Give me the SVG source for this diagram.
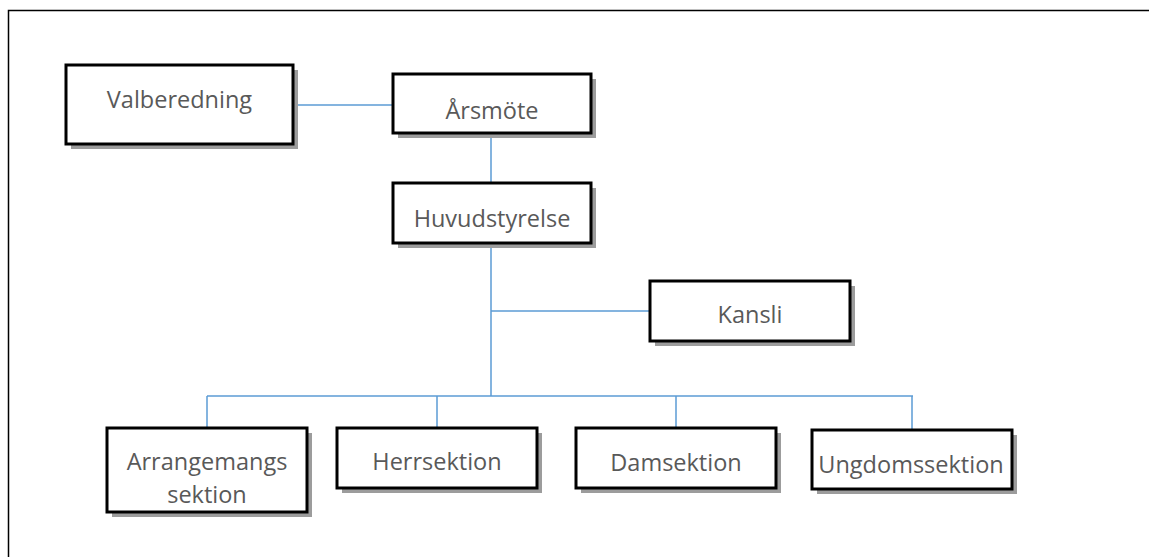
<svg xmlns="http://www.w3.org/2000/svg" width="1149" height="557" viewBox="0 0 1149 557">
<style>
.shadow{fill:#9c9c9c}
.box{fill:#fff;stroke:#000;stroke-width:3}
.lbl{font-family:"Open Sans","Liberation Sans",sans-serif;font-size:23.5px;fill:#595959;text-anchor:middle}
.conn{stroke:#5b9bd5;stroke-width:1.5;fill:none}
</style>
<rect width="1149" height="557" fill="#fff"/>
<path d="M8.5,557 V10.5 H1149" fill="none" stroke="#000" stroke-width="1.5"/>
<g id="connectors">
<path class="conn" d="M293,105 H393"/>
<path class="conn" d="M491,133 V183"/>
<path class="conn" d="M491,243 V396"/>
<path class="conn" d="M491,311 H650"/>
<path class="conn" d="M207,396 H913"/>
<path class="conn" d="M207,396 V428"/>
<path class="conn" d="M437,396 V428"/>
<path class="conn" d="M676,396 V428"/>
<path class="conn" d="M912,396 V430"/>
</g>
<g id="valberedning">
<rect class="shadow" x="71" y="70" width="227" height="79"/>
<rect class="box" x="66" y="65" width="227" height="79"/>
<text class="lbl" x="179.5" y="108">Valberedning</text>
</g>
<g id="arsmote">
<rect class="shadow" x="398" y="79" width="198" height="59"/>
<rect class="box" x="393" y="74" width="198" height="59"/>
<text class="lbl" x="492" y="119">Årsmöte</text>
</g>
<g id="huvudstyrelse">
<rect class="shadow" x="398" y="188" width="198" height="60"/>
<rect class="box" x="393" y="183" width="198" height="60"/>
<text class="lbl" x="492" y="227">Huvudstyrelse</text>
</g>
<g id="kansli">
<rect class="shadow" x="655" y="286" width="200" height="60"/>
<rect class="box" x="650" y="281" width="200" height="60"/>
<text class="lbl" x="750" y="323">Kansli</text>
</g>
<g id="arrangemangs">
<rect class="shadow" x="112" y="433" width="200" height="84"/>
<rect class="box" x="107" y="428" width="200" height="84"/>
<text class="lbl" x="207" y="470">Arrangemangs</text>
<text class="lbl" x="207" y="503">sektion</text>
</g>
<g id="herrsektion">
<rect class="shadow" x="342" y="433" width="200" height="60"/>
<rect class="box" x="337" y="428" width="200" height="60"/>
<text class="lbl" x="437" y="470">Herrsektion</text>
</g>
<g id="damsektion">
<rect class="shadow" x="581" y="433" width="200" height="60"/>
<rect class="box" x="576" y="428" width="200" height="60"/>
<text class="lbl" x="676" y="471">Damsektion</text>
</g>
<g id="ungdomssektion">
<rect class="shadow" x="817" y="435" width="200" height="59"/>
<rect class="box" x="812" y="430" width="200" height="59"/>
<text class="lbl" x="911" y="473">Ungdomssektion</text>
</g>
</svg>
